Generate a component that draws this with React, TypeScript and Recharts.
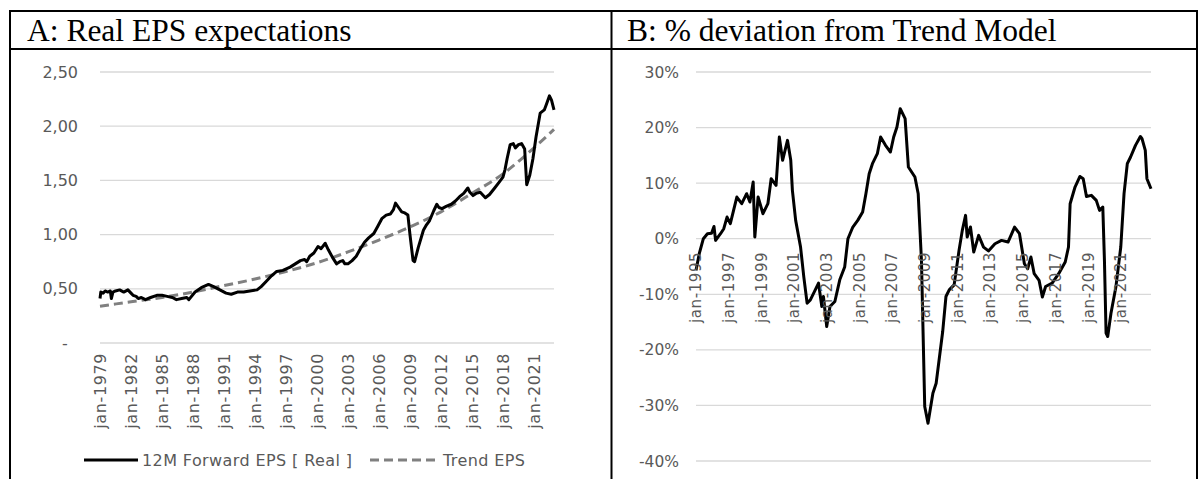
import React from 'react';
import { LineChart, Line, XAxis, YAxis, CartesianGrid } from 'recharts';

// Panel A: 12M forward EPS (real)
const epsDates = [
  1979.0, 1979.08, 1979.3, 1979.5, 1979.75, 1980.0, 1980.1, 1980.25, 1980.5, 1980.9,
  1981.3, 1981.7, 1982.0, 1982.2, 1982.5, 1982.7, 1983.0, 1983.4, 1983.9, 1984.5,
  1985.0, 1985.5, 1986.0, 1986.4, 1986.9, 1987.4, 1987.6, 1988.2, 1988.8, 1989.5,
  1990.0, 1990.6, 1991.2, 1991.7, 1992.3, 1992.9, 1993.5, 1994.2, 1994.6, 1995.1,
  1995.6, 1996.1, 1996.7, 1997.4, 1997.9, 1998.4, 1998.8, 1999.0, 1999.3, 1999.7,
  2000.1, 2000.4, 2000.8, 2001.1, 2001.5, 2001.9, 2002.2, 2002.5, 2002.7, 2003.0,
  2003.4, 2003.8, 2004.2, 2004.6, 2005.0, 2005.5, 2005.9, 2006.3, 2006.7, 2007.1,
  2007.4, 2007.6, 2007.9, 2008.2, 2008.5, 2008.8, 2009.0, 2009.3, 2009.45, 2009.8,
  2010.3, 2010.6, 2010.9, 2011.3, 2011.6, 2011.8, 2012.1, 2012.5, 2013.0, 2013.4,
  2013.8, 2014.2, 2014.6, 2014.8, 2015.1, 2015.4, 2015.8, 2016.3, 2016.7, 2017.2,
  2017.6, 2018.0, 2018.2, 2018.4, 2018.7, 2019.0, 2019.2, 2019.5, 2019.8, 2020.1,
  2020.3, 2020.6, 2020.9, 2021.2, 2021.6, 2022.0, 2022.2, 2022.5, 2022.7, 2022.94,
];
const epsValues = [
  0.41, 0.47, 0.46, 0.48, 0.47, 0.48, 0.41, 0.47, 0.48, 0.49,
  0.47, 0.49, 0.46, 0.44, 0.43, 0.41, 0.42, 0.40, 0.42, 0.44,
  0.44, 0.43, 0.42, 0.40, 0.41, 0.42, 0.40, 0.47, 0.51, 0.54,
  0.52, 0.49, 0.46, 0.45, 0.47, 0.47, 0.48, 0.49, 0.52, 0.57,
  0.62, 0.66, 0.67, 0.70, 0.73, 0.76, 0.77, 0.75, 0.80, 0.83,
  0.89, 0.87, 0.92, 0.86, 0.79, 0.73, 0.75, 0.76, 0.73, 0.73,
  0.76, 0.80, 0.87, 0.93, 0.97, 1.01, 1.08, 1.15, 1.18, 1.19,
  1.23, 1.29, 1.25, 1.21, 1.20, 1.18, 1.00, 0.76, 0.75, 0.88,
  1.04, 1.09, 1.13, 1.22, 1.28, 1.25, 1.24, 1.26, 1.28, 1.31,
  1.35, 1.38, 1.43, 1.39, 1.36, 1.38, 1.39, 1.34, 1.37, 1.43,
  1.48, 1.53, 1.60, 1.70, 1.83, 1.84, 1.80, 1.83, 1.84, 1.79,
  1.46, 1.55, 1.70, 1.90, 2.12, 2.15, 2.20, 2.28, 2.24, 2.15,
];

// Panel A: trend EPS
const trendDates = [1979, 1982, 1985, 1988, 1991, 1994, 1997, 2000, 2003, 2006, 2009, 2012, 2015, 2018, 2021, 2022.94];
const trendValues = [0.34, 0.38, 0.42, 0.47, 0.53, 0.59, 0.66, 0.74, 0.84, 0.95, 1.07, 1.21, 1.38, 1.56, 1.8, 1.97];

// Panel B: % deviation from trend
const devDates = [
  1995.0, 1995.2, 1995.45, 1995.7, 1995.95, 1996.1, 1996.2, 1996.5, 1996.7, 1996.9,
  1997.1, 1997.3, 1997.5, 1997.8, 1998.1, 1998.3, 1998.5, 1998.6, 1998.8, 1999.1,
  1999.4, 1999.6, 1999.9, 2000.1, 2000.3, 2000.6, 2000.8, 2000.9, 2001.1, 2001.4,
  2001.6, 2001.8, 2002.0, 2002.3, 2002.5, 2002.7, 2002.8, 2003.0, 2003.2, 2003.5,
  2003.8, 2004.1, 2004.3, 2004.6, 2004.9, 2005.2, 2005.4, 2005.6, 2005.8, 2006.1,
  2006.3, 2006.6, 2006.9, 2007.1, 2007.3, 2007.5, 2007.8, 2008.0, 2008.4, 2008.6,
  2008.8, 2009.0, 2009.2, 2009.5, 2009.7, 2010.1, 2010.3, 2010.5, 2010.8, 2011.1,
  2011.3, 2011.5, 2011.6, 2011.8, 2012.0, 2012.3, 2012.6, 2012.9, 2013.3, 2013.7,
  2014.1, 2014.5, 2014.8, 2015.1, 2015.3, 2015.5, 2015.7, 2016.0, 2016.2, 2016.4,
  2016.8, 2017.2, 2017.6, 2017.8, 2017.9, 2018.2, 2018.5, 2018.7, 2018.9, 2019.2,
  2019.5, 2019.7, 2019.9, 2020.0, 2020.1, 2020.2, 2020.4, 2020.7, 2021.0, 2021.2,
  2021.4, 2021.6, 2021.9, 2022.2, 2022.3, 2022.5, 2022.6, 2022.85,
];
const devValues = [
  -5.7, -2.7, 0.0, 0.9, 1.0, 2.2, -0.3, 0.9, 1.8, 3.9,
  2.7, 5.1, 7.5, 6.3, 8.1, 6.6, 10.2, 0.3, 7.5, 4.5,
  6.3, 10.8, 9.6, 18.3, 14.1, 17.7, 14.1, 8.7, 3.3, -1.5,
  -6.9, -11.6, -11.0, -9.2, -8.0, -12.2, -10.4, -15.8, -12.2, -11.3,
  -7.4, -5.1, 0.0, 2.1, 3.3, 4.8, 8.1, 11.7, 13.5, 15.3,
  18.3, 16.8, 15.6, 18.3, 20.1, 23.4, 21.6, 12.9, 11.1, 8.1,
  -3.9, -30.2, -33.2, -27.8, -26.0, -16.7, -10.4, -9.2, -8.3, -2.1,
  1.5, 4.2, 0.3, 2.1, -2.4, 0.6, -1.5, -2.2, -0.9, -0.3,
  -0.6, 2.1, 0.9, -4.5, -5.4, -3.3, -6.3, -7.5, -10.5, -8.6,
  -8.0, -6.3, -4.2, -1.5, 6.3, 9.3, 11.2, 10.8, 7.6, 7.8,
  6.9, 5.1, 5.7, -3.9, -17.0, -17.6, -13.4, -8.7, -1.5, 8.1,
  13.5, 14.7, 16.8, 18.4, 18.0, 15.9, 10.8, 9.0,
];

const epsTicks = [0, 0.5, 1, 1.5, 2, 2.5];
const devTicks = [-40, -30, -20, -10, 0, 10, 20, 30];
const epsYears = [1979, 1982, 1985, 1988, 1991, 1994, 1997, 2000, 2003, 2006, 2009, 2012, 2015, 2018, 2021];
const devYears = [1995, 1997, 1999, 2001, 2003, 2005, 2007, 2009, 2011, 2013, 2015, 2017, 2019, 2021];
const legendLabels = ['12M Forward EPS [ Real ]', 'Trend EPS'];
const panelTitles = ['A: Real EPS expectations', 'B: % deviation from Trend Model'];

const eps = epsDates.map((t, i) => ({ t, v: epsValues[i] }));
const trend = trendDates.map((t, i) => ({ t, v: trendValues[i] }));
const dev = devDates.map((t, i) => ({ t, v: devValues[i] }));

const GRAY = '#595959';
const FONT = '"DejaVu Sans", sans-serif';
const LINE_W = 3;

// plot geometry
const PLOT_TOP = 72;
const R_BOTTOM = 461;
const R_ZERO = PLOT_TOP + ((R_BOTTOM - PLOT_TOP) * 30) / 70;

// rotated month label; labelTop is where the end of the text sits
const YearTick = (props: any) => {
  const { x, y, payload, labelTop, fontSize } = props;
  return (
    <g transform={`translate(${x},${y})`}>
      <text
        transform="rotate(-90)"
        x={y - labelTop}
        dy="0.36em"
        textAnchor="end"
        fill={GRAY}
        fontSize={fontSize}
        fontFamily={FONT}
        letterSpacing={0.6}
      >
        {`jan-${payload.value}`}
      </text>
    </g>
  );
};

const epsFmt = (v: number) => (v === 0 ? '-\u00a0\u00a0' : v.toFixed(2).replace('.', ','));

export default function App() {
  return (
    <div style={{ position: 'absolute', left: 0, top: 0, width: 1202, height: 479, background: '#fff' }}>
      <div style={{ position: 'absolute', left: 0, top: 0 }}>
        <LineChart width={610} height={479} margin={{ top: PLOT_TOP, right: 56, bottom: 0, left: 0 }}>
          <CartesianGrid vertical={false} stroke="#d9d9d9" strokeWidth={1.3} />
          <XAxis
            type="number"
            dataKey="t"
            domain={[1979, 2022.94]}
            ticks={epsYears}
            interval={0}
            height={136}
            axisLine={false}
            tickLine={false}
            tick={<YearTick labelTop={353} fontSize={16} />}
          />
          <YAxis
            type="number"
            domain={[0, 2.5]}
            ticks={epsTicks}
            interval={0}
            width={100}
            axisLine={false}
            tickLine={false}
            tickMargin={16}
            tickFormatter={epsFmt}
            tick={{ fill: GRAY, fontSize: 16, fontFamily: FONT }}
          />
          <Line
            data={trend}
            dataKey="v"
            type="monotone"
            stroke="#808080"
            strokeWidth={LINE_W}
            strokeDasharray="9 5"
            dot={false}
            isAnimationActive={false}
          />
          <Line
            data={eps}
            dataKey="v"
            type="linear"
            stroke="#000"
            strokeWidth={LINE_W}
            strokeLinejoin="round"
            dot={false}
            isAnimationActive={false}
          />
        </LineChart>
      </div>

      <div style={{ position: 'absolute', left: 610, top: 0 }}>
        <LineChart width={592} height={479} margin={{ top: PLOT_TOP, right: 51, bottom: 0, left: 0 }}>
          <CartesianGrid vertical={false} stroke="#d9d9d9" strokeWidth={1.3} />
          <XAxis
            type="number"
            dataKey="t"
            domain={[1995, 2022.85]}
            ticks={devYears}
            interval={0}
            height={18}
            axisLine={false}
            tickLine={false}
            tick={<YearTick labelTop={R_ZERO + 13} fontSize={15} />}
          />
          <YAxis
            type="number"
            domain={[-40, 30]}
            ticks={devTicks}
            interval={0}
            width={86}
            axisLine={false}
            tickLine={false}
            tickMargin={11}
            tickFormatter={(v: number) => `${v}%`}
            tick={{ fill: GRAY, fontSize: 15.5, fontFamily: FONT }}
          />
          <Line
            data={dev}
            dataKey="v"
            type="linear"
            stroke="#000"
            strokeWidth={LINE_W}
            strokeLinejoin="round"
            dot={false}
            isAnimationActive={false}
          />
        </LineChart>
      </div>

      <svg width={1202} height={479} style={{ position: 'absolute', left: 0, top: 0, pointerEvents: 'none' }}>
        {/* table borders */}
        <line x1={9} y1={11} x2={1198} y2={11} stroke="#000" strokeWidth={2} />
        <line x1={9} y1={49} x2={1198} y2={49} stroke="#000" strokeWidth={2} />
        <line x1={10} y1={10} x2={10} y2={479} stroke="#000" strokeWidth={2} />
        <line x1={611.5} y1={10} x2={611.5} y2={479} stroke="#000" strokeWidth={2} />
        <line x1={1197} y1={10} x2={1197} y2={479} stroke="#000" strokeWidth={2} />
        <text x={27} y={41} fontFamily='"Liberation Serif", serif' fontSize={31.5} fill="#000">
          {panelTitles[0]}
        </text>
        <text x={627} y={41} fontFamily='"Liberation Serif", serif' fontSize={31.5} fill="#000">
          {panelTitles[1]}
        </text>
        {/* legend */}
        <line x1={84} y1={460} x2={138} y2={460} stroke="#000" strokeWidth={LINE_W} />
        <text x={142} y={460} dy="0.36em" fill={GRAY} fontSize={16} fontFamily={FONT} letterSpacing={0.4}>
          {legendLabels[0]}
        </text>
        <line x1={370} y1={460} x2={440} y2={460} stroke="#808080" strokeWidth={LINE_W} strokeDasharray="9 5" />
        <text x={443} y={460} dy="0.36em" fill={GRAY} fontSize={16} fontFamily={FONT} letterSpacing={0.4}>
          {legendLabels[1]}
        </text>
      </svg>
    </div>
  );
}
